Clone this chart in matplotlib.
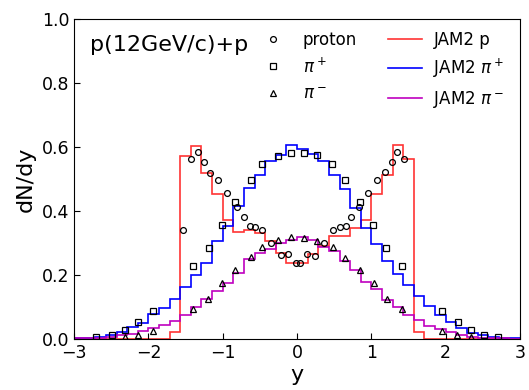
import numpy as np
import matplotlib
matplotlib.use("Agg")
import matplotlib.pyplot as plt

# JAM2 rapidity histograms: 42 bins of width 1/7 over [-3, 3]
y_range = (-3.0, 3.0)
n_bins = 42

jam_p = [0, 0, 0, 0, 0, 0, 0, 0, 0,
         0.022, 0.574, 0.603, 0.52, 0.453, 0.373, 0.335, 0.342, 0.331, 0.308,
         0.27, 0.2375, 0.2375, 0.267, 0.29, 0.324, 0.324, 0.349, 0.373, 0.454,
         0.514, 0.606, 0.563, 0.022,
         0, 0, 0, 0, 0, 0, 0, 0, 0]

jam_pip = [0.003, 0.003, 0.007, 0.013, 0.022, 0.0375, 0.05, 0.079, 0.099,
           0.127, 0.163, 0.2, 0.238, 0.308, 0.354, 0.417, 0.474, 0.513, 0.557,
           0.576, 0.606, 0.594, 0.579, 0.558, 0.513, 0.469, 0.411, 0.349,
           0.298, 0.243, 0.204, 0.17, 0.134, 0.104, 0.076, 0.054, 0.034,
           0.021, 0.012, 0.007, 0.005, 0.003]

jam_pim = [0.003, 0.003, 0.005, 0.008, 0.012, 0.018, 0.026, 0.036, 0.045,
           0.058, 0.077, 0.101, 0.125, 0.151, 0.177, 0.206, 0.25, 0.268,
           0.283, 0.302, 0.31, 0.319, 0.309, 0.289, 0.276, 0.243, 0.215,
           0.18, 0.156, 0.123, 0.101, 0.076, 0.059, 0.042, 0.031, 0.022,
           0.013, 0.008, 0.005, 0.004, 0.003, 0.002]

# Measured dN/dy
proton_y = [-1.54, -1.42, -1.335, -1.254, -1.17, -1.057, -0.945, -0.806,
            -0.716, -0.636, -0.56, -0.465, -0.344, -0.222, -0.116, -0.02,
            0.04, 0.14, 0.242, 0.363, 0.484, 0.578, 0.655, 0.73, 0.829,
            0.955, 1.075, 1.183, 1.277, 1.35, 1.434]
proton_dndy = [0.342, 0.5625, 0.585, 0.553, 0.52, 0.496, 0.457, 0.4125,
               0.383, 0.355, 0.352, 0.34, 0.30, 0.2625, 0.267, 0.2375,
               0.2375, 0.267, 0.261, 0.30, 0.342, 0.352, 0.355, 0.383, 0.414,
               0.458, 0.496, 0.521, 0.553, 0.585, 0.5625]

pip_y = [-2.70, -2.487, -2.316, -2.145, -1.944, -1.393, -1.187, -1.008,
         -0.838, -0.622, -0.465, -0.255, -0.075, 0.09, 0.274, 0.475, 0.641,
         0.852, 1.022, 1.20, 1.41, 1.954, 2.164, 2.335, 2.51, 2.707]
pip_dndy = [0.006, 0.0125, 0.029, 0.055, 0.088, 0.23, 0.286, 0.357, 0.43,
            0.496, 0.547, 0.574, 0.581, 0.581, 0.575, 0.547, 0.496, 0.43,
            0.357, 0.286, 0.23, 0.088, 0.055, 0.029, 0.0135, 0.006]

pim_y = [-2.316, -2.145, -1.944, -1.40, -1.204, -1.012, -0.838, -0.622,
         -0.465, -0.255, -0.085, 0.094, 0.274, 0.484, 0.641, 0.852, 1.035,
         1.215, 1.41, 1.954, 2.156, 2.335]
pim_dndy = [0.006, 0.0135, 0.027, 0.094, 0.126, 0.177, 0.2165, 0.256,
            0.289, 0.31, 0.319, 0.3175, 0.308, 0.289, 0.253, 0.2165, 0.177,
            0.126, 0.094, 0.027, 0.0135, 0.006]

x_ticks = [-3, -2, -1, 0, 1, 2, 3]
y_ticks = [0.0, 0.2, 0.4, 0.6, 0.8, 1.0]

edges = np.linspace(y_range[0], y_range[1], n_bins + 1)

fig = plt.figure(figsize=(5.29, 3.90), dpi=100)
ax = fig.add_axes([0.140, 0.130, 0.843, 0.821])

mk = dict(linestyle="none", mfc="none", mec="black", mew=0.9, ms=4.2)
h_p, = ax.plot(proton_y, proton_dndy, marker="o", label="proton", **mk)
h_pip, = ax.plot(pip_y, pip_dndy, marker="s", label=r"$\pi^+$", **mk)
h_pim, = ax.plot(pim_y, pim_dndy, marker="^", label=r"$\pi^-$", **mk)

s_p = ax.stairs(jam_p, edges, color="red", alpha=0.8, lw=1.2, label="JAM2 p")
s_pip = ax.stairs(jam_pip, edges, color="blue", lw=1.2, label=r"JAM2 $\pi^+$")
s_pim = ax.stairs(jam_pim, edges, color="m", lw=1.2, label=r"JAM2 $\pi^-$")

ax.set_xlim(-3, 3)
ax.set_ylim(0, 1)
ax.set_xticks(x_ticks)
ax.set_yticks(y_ticks)
ax.set_yticklabels([f"{v:.1f}" for v in y_ticks])
ax.tick_params(direction="in", labelsize=12.5, length=4)
ax.set_xlabel("y", fontsize=16, labelpad=2)
ax.set_ylabel("dN/dy", fontsize=16, labelpad=4)

ax.text(0.035, 0.92, "p(12GeV/c)+p", transform=ax.transAxes,
        fontsize=16, va="center", ha="left")

leg1 = ax.legend(handles=[h_p, h_pip, h_pim], loc="upper left",
                 bbox_to_anchor=(0.393, 0.985), borderaxespad=0,
                 frameon=False, fontsize=12, numpoints=1)
ax.add_artist(leg1)
ax.legend(handles=[s_p, s_pip, s_pim], loc="upper left",
          bbox_to_anchor=(0.690, 0.985), borderaxespad=0,
          frameon=False, fontsize=12, handlelength=2.0, handletextpad=0.7)

fig.savefig("out.png", dpi=100)
